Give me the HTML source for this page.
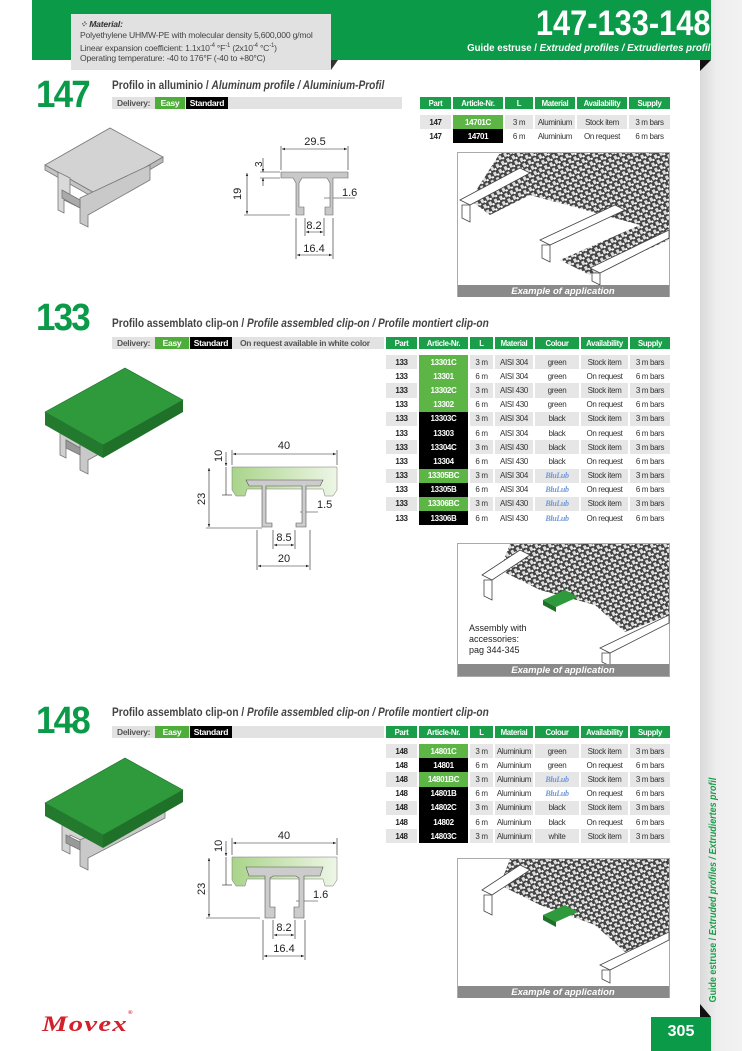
<!DOCTYPE html>
<html><head><meta charset="utf-8">
<style>
*{margin:0;padding:0;box-sizing:border-box}
body{width:742px;height:1051px;position:relative;background:#fff;overflow:hidden;font-family:"Liberation Sans Narrow","Liberation Sans",sans-serif;color:#222}
.a{position:absolute}
.strip{left:700px;top:0;width:42px;height:1051px;background:linear-gradient(90deg,#d9d9d9,#eeeeee 40%,#f2f2f2)}
.band{left:32px;top:0;width:679px;height:60px;background:#0a9a48}
.mat{left:71px;top:14px;width:260px;height:56px;background:#e1e1e1;font-size:8.6px;line-height:10.8px;color:#444;padding:5px 0 0 9px;letter-spacing:-0.2px}
.mat b{font-style:italic;color:#333}
.big{font-weight:bold;color:#0a9a48;font-size:38px;letter-spacing:-2px;line-height:30px;transform:scaleX(0.92);transform-origin:left}
.title{font-size:11.5px;font-weight:bold;color:#444;white-space:nowrap;transform:scaleX(0.88);transform-origin:left}
.del{height:12px;background:#e2e2e2;font-size:8.5px;font-weight:bold;color:#555;line-height:12px;white-space:nowrap;letter-spacing:-0.3px}
.del span{position:absolute;top:0;height:12px;text-align:center}
.easy{background:#4fae3a;color:#fff}
.std{background:#000;color:#fff}
table{position:absolute;border-collapse:separate;border-spacing:2px 0;font-size:8px;text-align:center;table-layout:fixed;letter-spacing:-0.35px}
th{background:#1a9e4a;color:#fff;height:12px;font-weight:bold;font-size:7.8px;padding:0;white-space:nowrap;overflow:hidden}
td{height:14.2px;padding:0;color:#333;white-space:nowrap;overflow:hidden}
tr.g td{background:#e6e6e6}
td.p{font-weight:bold;color:#222}
td.cg{background:#5cb544!important;color:#fff;font-weight:bold}
td.ck{background:#000!important;color:#fff;font-weight:bold}
.blu{color:#6f9ad6;font-family:"Liberation Serif",serif;font-weight:bold;font-style:italic}
</style></head><body>
<div class="a strip"></div>
<div class="a band"></div>
<svg class="a" style="left:700px;top:60px" width="11" height="11"><polygon points="0,11 11,0 0,0" fill="#111"/></svg>
<div class="a mat"><b>⁘ Material:</b><br>Polyethylene UHMW-PE with molecular density 5,600,000 g/mol<br>Linear expansion coefficient: 1.1x10<sup style="font-size:6px">-4</sup> °F<sup style="font-size:6px">-1</sup> (2x10<sup style="font-size:6px">-4</sup> °C<sup style="font-size:6px">-1</sup>)<br>Operating temperature: -40 to 176°F (-40 to +80°C)</div>
<svg class="a" style="left:331px;top:60px" width="8" height="10"><polygon points="0,10 0,0 7,0" fill="#333"/></svg>
<div class="a" style="right:32px;top:7px;color:#fff;font-weight:bold;font-size:35px;line-height:34px;text-align:right;transform:scaleX(0.88);transform-origin:right">147-133-148</div>
<div class="a" style="right:32px;top:42px;color:#fff;font-weight:bold;font-size:10.5px;text-align:right;white-space:nowrap;transform:scaleX(0.92);transform-origin:right">Guide estruse / <i>Extruded profiles / Extrudiertes profil</i></div>

<!-- 147 -->
<div class="a big" style="left:36px;top:80px">147</div>
<div class="a title" style="left:112px;top:80px">Profilo in alluminio / <i>Aluminum profile / Aluminium-Profil</i></div>
<div class="a del" style="left:112px;top:97px;width:290px"><span style="left:5px">Delivery:</span><span class="easy" style="left:43px;width:30px">Easy</span><span class="std" style="left:74px;width:42px">Standard</span></div>
<table style="left:418px;top:97px;width:254px">
<colgroup><col style="width:31px"><col style="width:50px"><col style="width:28px"><col style="width:40px"><col style="width:50px"><col style="width:41px"></colgroup>
<tr><th>Part</th><th>Article-Nr.</th><th>L</th><th>Material</th><th>Availability</th><th>Supply</th></tr>
<tr><td style="height:6px" colspan="6"></td></tr>
<tr class="g"><td class="p">147</td><td class="cg">14701C</td><td>3 m</td><td>Aluminium</td><td>Stock item</td><td>3 m bars</td></tr>
<tr><td class="p">147</td><td class="ck">14701</td><td>6 m</td><td>Aluminium</td><td>On request</td><td>6 m bars</td></tr>
</table>

<svg class="a" style="left:0;top:0" width="700" height="1051" font-family="Liberation Sans,sans-serif" font-size="11" fill="#222">
<defs>
<pattern id="ch" width="6" height="6" patternUnits="userSpaceOnUse" patternTransform="rotate(-28)">
<rect width="6" height="6" fill="#444"/><rect x="0" y="0" width="3" height="4" fill="#ddd"/><rect x="3" y="3" width="2" height="2" fill="#fff"/></pattern>
<linearGradient id="lg" x1="0" x2="1"><stop offset="0" stop-color="#a9d48a"/><stop offset="1" stop-color="#eef6e6"/></linearGradient>
<marker id="ar" markerWidth="6" markerHeight="6" refX="5" refY="3" orient="auto-start-reverse"><path d="M0,1 L5,3 L0,5z" fill="#222"/></marker>
</defs>
<!-- 147 3D -->
<g stroke="#777" stroke-width="0.8">
<polygon points="45,165 110,128 163,157 98,195" fill="#d3d3d3"/>
<polygon points="45,165 98,195 98,200 45,170" fill="#c4c4c4"/>
<polygon points="98,195 163,157 163,162 98,200" fill="#bbb"/>
<polygon points="58,172 58,210 64,213 64,200 80,208 80,200 70,195 70,178" fill="#d9d9d9"/>
<polygon points="80,198 80,223 88,227 88,215 150,180 150,165" fill="#c9c9c9"/>
<polygon points="62,190 80,200 80,208 62,198" fill="#aaa"/>
</g>
<!-- 147 drawing -->
<g stroke="#222" stroke-width="0.6" fill="none">
<line x1="281" y1="146" x2="281" y2="170"/><line x1="348" y1="146" x2="348" y2="170"/>
<line x1="282" y1="149" x2="347" y2="149" marker-start="url(#ar)" marker-end="url(#ar)"/>
<line x1="260" y1="172" x2="280" y2="172"/><line x1="260" y1="178" x2="280" y2="178"/>
<line x1="263" y1="158" x2="263" y2="172" marker-end="url(#ar)"/><line x1="263" y1="186" x2="263" y2="178" marker-end="url(#ar)"/>
<line x1="244" y1="215" x2="290" y2="215"/>
<line x1="247" y1="173" x2="247" y2="214" marker-start="url(#ar)" marker-end="url(#ar)"/>
<line x1="324" y1="198" x2="355" y2="198"/>
<line x1="305" y1="218" x2="305" y2="236"/><line x1="324" y1="218" x2="324" y2="236"/>
<line x1="306" y1="232" x2="323" y2="232" marker-start="url(#ar)" marker-end="url(#ar)"/>
<line x1="296" y1="218" x2="296" y2="259"/><line x1="333" y1="218" x2="333" y2="259"/>
<line x1="297" y1="255" x2="332" y2="255" marker-start="url(#ar)" marker-end="url(#ar)"/>
</g>
<path d="M281,172 H348 V178 H333 V215 H325 V207 H330 V183 L327,178 H302 L299,183 V207 H304 V215 H296 V183 L293,178 H281Z" fill="#c8c8c8" stroke="#666" stroke-width="0.6"/>
<text x="315" y="145" text-anchor="middle">29.5</text>
<text x="0" y="0" transform="translate(262,167) rotate(-90)" font-size="10">3</text>
<text x="0" y="0" transform="translate(241,200) rotate(-90)">19</text>
<text x="342" y="196">1.6</text>
<text x="314" y="229" text-anchor="middle">8.2</text>
<text x="314" y="252" text-anchor="middle">16.4</text>

<!-- 147 app -->
<rect x="457.5" y="152.5" width="212" height="144" fill="#fff" stroke="#aaa"/>
<polygon points="500,153 669,153 669,240 590,275 560,260 640,225 530,195 490,215 470,200" fill="url(#ch)"/>
<g fill="#fff" stroke="#444" stroke-width="0.8">
<polygon points="460,200 520,168 530,173 470,205"/><polygon points="462,205 470,205 470,222 462,218"/>
<polygon points="540,240 615,205 625,210 550,245"/><polygon points="542,245 550,245 550,262 542,258"/>
<polygon points="590,268 669,230 669,238 600,273"/><polygon points="592,273 600,273 600,285 592,281"/>
</g>
<rect x="458" y="285" width="211" height="12" fill="#8a8a8a"/>
<text x="563" y="294" text-anchor="middle" fill="#fff" font-size="9.5" font-weight="bold" font-style="italic">Example of application</text>

<!-- 133 3D -->
<g stroke="#777" stroke-width="0.8">
<polygon points="60,412 60,455 66,458 66,440 80,448 80,420" fill="#d0d0d0"/>
<polygon points="80,440 80,470 88,474 88,460 165,418 165,395" fill="#c9c9c9"/>
<polygon points="66,440 80,448 80,455 66,448" fill="#999"/>
</g>
<polygon points="45,412 125,368 183,400 103,445" fill="#2f9a3c" stroke="#1c6e2a" stroke-width="0.6"/>
<polygon points="45,412 103,445 103,458 45,425" fill="#237a2e"/>
<polygon points="103,445 183,400 183,412 103,458" fill="#1f7029"/>
<!-- 133 drawing -->
<g stroke="#222" stroke-width="0.6" fill="none">
<line x1="232" y1="450" x2="232" y2="465"/><line x1="337" y1="450" x2="337" y2="465"/>
<line x1="233" y1="454" x2="336" y2="454" marker-start="url(#ar)" marker-end="url(#ar)"/>
<line x1="222" y1="495" x2="232" y2="495"/>
<line x1="226" y1="452" x2="226" y2="466" marker-end="url(#ar)"/><line x1="226" y1="467" x2="226" y2="495"/>
<line x1="206" y1="528" x2="262" y2="528"/>
<line x1="209" y1="468" x2="209" y2="527" marker-start="url(#ar)" marker-end="url(#ar)"/>
<line x1="300" y1="512" x2="318" y2="512"/>
<line x1="273" y1="530" x2="273" y2="549"/><line x1="295" y1="530" x2="295" y2="549"/>
<line x1="274" y1="545" x2="294" y2="545" marker-start="url(#ar)" marker-end="url(#ar)"/>
<line x1="257" y1="530" x2="257" y2="570"/><line x1="310" y1="530" x2="310" y2="570"/>
<line x1="258" y1="566" x2="309" y2="566" marker-start="url(#ar)" marker-end="url(#ar)"/>
</g>
<path d="M232,467 H337 V490 L333,496 H325 L323,489 H247 L245,496 H236 L232,490Z" fill="url(#lg)" stroke="#777" stroke-width="0.5"/>
<path d="M246,480 H323 L320,486 H306 V527 H296 V523 H302 V486 H266 V523 H272 V527 H262 V486 H249Z" fill="#ccc" stroke="#555" stroke-width="0.6"/>
<text x="284" y="449" text-anchor="middle">40</text>
<text transform="translate(222,462) rotate(-90)">10</text>
<text transform="translate(205,505) rotate(-90)">23</text>
<text x="317" y="508">1.5</text>
<text x="284" y="541" text-anchor="middle">8.5</text>
<text x="284" y="562" text-anchor="middle">20</text>

<!-- 133 app -->
<rect x="457.5" y="543.5" width="212" height="133" fill="#fff" stroke="#aaa"/>
<polygon points="510,544 669,544 669,615 625,632 595,605 540,590 500,570" fill="url(#ch)"/>
<g fill="#fff" stroke="#444" stroke-width="0.8">
<polygon points="482,575 520,550 530,555 492,580"/><polygon points="484,580 492,580 492,600 484,596"/>
<polygon points="600,648 669,615 669,623 610,653"/><polygon points="602,653 610,653 610,666 602,662"/>
</g>
<polygon points="543,600 565,590 578,597 556,607" fill="#2f9a3c"/><polygon points="543,600 556,607 556,612 543,605" fill="#1f7029"/>
<text x="469" y="631" font-size="9">Assembly with</text>
<text x="469" y="642" font-size="9">accessories:</text>
<text x="469" y="653" font-size="9">pag  344-345</text>
<rect x="458" y="664" width="211" height="12" fill="#8a8a8a"/>
<text x="563" y="673" text-anchor="middle" fill="#fff" font-size="9.5" font-weight="bold" font-style="italic">Example of application</text>

<!-- 148 3D -->
<g stroke="#777" stroke-width="0.8">
<polygon points="62,822 62,850 70,854 70,835 85,842 85,822" fill="#d3d3d3"/>
<polygon points="80,840 80,866 88,870 88,858 165,818 165,800" fill="#c9c9c9"/>
<polygon points="66,835 80,842 80,850 66,843" fill="#999"/>
</g>
<polygon points="45,803 125,758 183,790 103,835" fill="#2f9a3c" stroke="#1c6e2a" stroke-width="0.6"/>
<polygon points="45,803 103,835 103,848 45,816" fill="#237a2e"/>
<polygon points="103,835 183,790 183,802 103,848" fill="#1f7029"/>
<!-- 148 drawing -->
<g stroke="#222" stroke-width="0.6" fill="none">
<line x1="232" y1="838" x2="232" y2="855"/><line x1="337" y1="838" x2="337" y2="855"/>
<line x1="233" y1="843" x2="336" y2="843" marker-start="url(#ar)" marker-end="url(#ar)"/>
<line x1="222" y1="885" x2="232" y2="885"/>
<line x1="226" y1="841" x2="226" y2="856" marker-end="url(#ar)"/><line x1="226" y1="857" x2="226" y2="885"/>
<line x1="206" y1="918" x2="260" y2="918"/>
<line x1="209" y1="858" x2="209" y2="917" marker-start="url(#ar)" marker-end="url(#ar)"/>
<line x1="296" y1="901" x2="318" y2="901"/>
<line x1="273" y1="920" x2="273" y2="939"/><line x1="295" y1="920" x2="295" y2="939"/>
<line x1="274" y1="935" x2="294" y2="935" marker-start="url(#ar)" marker-end="url(#ar)"/>
<line x1="263" y1="920" x2="263" y2="960"/><line x1="305" y1="920" x2="305" y2="960"/>
<line x1="264" y1="956" x2="304" y2="956" marker-start="url(#ar)" marker-end="url(#ar)"/>
</g>
<path d="M232,857 H337 V880 L333,886 H325 L323,879 H247 L245,886 H236 L232,880Z" fill="url(#lg)" stroke="#777" stroke-width="0.5"/>
<path d="M246,867 H323 L320,876 H304 V918 H294 V907 H299 V878 L296,876 H273 L270,878 V907 H275 V918 H265 V876 H249Z" fill="#ccc" stroke="#555" stroke-width="0.6"/>
<text x="284" y="839" text-anchor="middle">40</text>
<text transform="translate(222,852) rotate(-90)">10</text>
<text transform="translate(205,895) rotate(-90)">23</text>
<text x="313" y="898">1.6</text>
<text x="284" y="931" text-anchor="middle">8.2</text>
<text x="284" y="952" text-anchor="middle">16.4</text>

<!-- 148 app -->
<rect x="457.5" y="858.5" width="212" height="139" fill="#fff" stroke="#aaa"/>
<polygon points="510,859 669,859 669,935 625,952 595,925 540,905 500,885" fill="url(#ch)"/>
<g fill="#fff" stroke="#444" stroke-width="0.8">
<polygon points="482,890 520,865 530,870 492,895"/><polygon points="484,895 492,895 492,915 484,911"/>
<polygon points="600,965 669,932 669,940 610,970"/><polygon points="602,970 610,970 610,983 602,979"/>
</g>
<polygon points="543,915 565,905 578,912 556,922" fill="#2f9a3c"/><polygon points="543,915 556,922 556,927 543,920" fill="#1f7029"/>
<rect x="458" y="986" width="211" height="12" fill="#8a8a8a"/>
<text x="563" y="995" text-anchor="middle" fill="#fff" font-size="9.5" font-weight="bold" font-style="italic">Example of application</text>
</svg>

<!-- 133 -->
<div class="a big" style="left:36px;top:303px">133</div>
<div class="a title" style="left:112px;top:318px">Profilo assemblato clip-on / <i>Profile assembled clip-on / Profile montiert clip-on</i></div>
<div class="a del" style="left:112px;top:337px;width:272px"><span style="left:5px">Delivery:</span><span class="easy" style="left:43px;width:34px">Easy</span><span class="std" style="left:78px;width:42px">Standard</span><span style="left:128px">On request available in white color</span></div>
<table style="left:384px;top:337px;width:288px">
<colgroup><col style="width:31px"><col style="width:49px"><col style="width:23px"><col style="width:38px"><col style="width:44px"><col style="width:47px"><col style="width:40px"></colgroup>
<tr><th>Part</th><th>Article-Nr.</th><th>L</th><th>Material</th><th>Colour</th><th>Availability</th><th>Supply</th></tr>
<tr><td style="height:6px" colspan="7"></td></tr>
<tr class="g"><td class="p">133</td><td class="cg">13301C</td><td>3 m</td><td>AISI 304</td><td>green</td><td>Stock item</td><td>3 m bars</td></tr>
<tr><td class="p">133</td><td class="cg">13301</td><td>6 m</td><td>AISI 304</td><td>green</td><td>On request</td><td>6 m bars</td></tr>
<tr class="g"><td class="p">133</td><td class="cg">13302C</td><td>3 m</td><td>AISI 430</td><td>green</td><td>Stock item</td><td>3 m bars</td></tr>
<tr><td class="p">133</td><td class="cg">13302</td><td>6 m</td><td>AISI 430</td><td>green</td><td>On request</td><td>6 m bars</td></tr>
<tr class="g"><td class="p">133</td><td class="ck">13303C</td><td>3 m</td><td>AISI 304</td><td>black</td><td>Stock item</td><td>3 m bars</td></tr>
<tr><td class="p">133</td><td class="ck">13303</td><td>6 m</td><td>AISI 304</td><td>black</td><td>On request</td><td>6 m bars</td></tr>
<tr class="g"><td class="p">133</td><td class="ck">13304C</td><td>3 m</td><td>AISI 430</td><td>black</td><td>Stock item</td><td>3 m bars</td></tr>
<tr><td class="p">133</td><td class="ck">13304</td><td>6 m</td><td>AISI 430</td><td>black</td><td>On request</td><td>6 m bars</td></tr>
<tr class="g"><td class="p">133</td><td class="cg">13305BC</td><td>3 m</td><td>AISI 304</td><td class="blu">BluLub</td><td>Stock item</td><td>3 m bars</td></tr>
<tr><td class="p">133</td><td class="ck">13305B</td><td>6 m</td><td>AISI 304</td><td class="blu">BluLub</td><td>On request</td><td>6 m bars</td></tr>
<tr class="g"><td class="p">133</td><td class="cg">13306BC</td><td>3 m</td><td>AISI 430</td><td class="blu">BluLub</td><td>Stock item</td><td>3 m bars</td></tr>
<tr><td class="p">133</td><td class="ck">13306B</td><td>6 m</td><td>AISI 430</td><td class="blu">BluLub</td><td>On request</td><td>6 m bars</td></tr>
</table>

<!-- 148 -->
<div class="a big" style="left:36px;top:706px">148</div>
<div class="a title" style="left:112px;top:707px">Profilo assemblato clip-on / <i>Profile assembled clip-on / Profile montiert clip-on</i></div>
<div class="a del" style="left:112px;top:726px;width:272px"><span style="left:5px">Delivery:</span><span class="easy" style="left:43px;width:34px">Easy</span><span class="std" style="left:78px;width:42px">Standard</span></div>
<table style="left:384px;top:726px;width:288px">
<colgroup><col style="width:31px"><col style="width:49px"><col style="width:23px"><col style="width:38px"><col style="width:44px"><col style="width:47px"><col style="width:40px"></colgroup>
<tr><th>Part</th><th>Article-Nr.</th><th>L</th><th>Material</th><th>Colour</th><th>Availability</th><th>Supply</th></tr>
<tr><td style="height:6px" colspan="7"></td></tr>
<tr class="g"><td class="p">148</td><td class="cg">14801C</td><td>3 m</td><td>Aluminium</td><td>green</td><td>Stock item</td><td>3 m bars</td></tr>
<tr><td class="p">148</td><td class="ck">14801</td><td>6 m</td><td>Aluminium</td><td>green</td><td>On request</td><td>6 m bars</td></tr>
<tr class="g"><td class="p">148</td><td class="cg">14801BC</td><td>3 m</td><td>Aluminium</td><td class="blu">BluLub</td><td>Stock item</td><td>3 m bars</td></tr>
<tr><td class="p">148</td><td class="ck">14801B</td><td>6 m</td><td>Aluminium</td><td class="blu">BluLub</td><td>On request</td><td>6 m bars</td></tr>
<tr class="g"><td class="p">148</td><td class="ck">14802C</td><td>3 m</td><td>Aluminium</td><td>black</td><td>Stock item</td><td>3 m bars</td></tr>
<tr><td class="p">148</td><td class="ck">14802</td><td>6 m</td><td>Aluminium</td><td>black</td><td>On request</td><td>6 m bars</td></tr>
<tr class="g"><td class="p">148</td><td class="ck">14803C</td><td>3 m</td><td>Aluminium</td><td>white</td><td>Stock item</td><td>3 m bars</td></tr>
</table>

<!-- side text -->
<div class="a" style="left:713px;top:890px;transform:translate(-50%,-50%) rotate(-90deg) scaleX(0.85);white-space:nowrap;color:#1a9e4a;font-weight:bold;font-size:10.5px">Guide estruse / <i>Extruded profiles / Extrudiertes profil</i></div>
<svg class="a" style="left:700px;top:1004px" width="11" height="13"><polygon points="0,0 11,13 0,13" fill="#111"/></svg>
<div class="a" style="left:651px;top:1017px;width:60px;height:34px;background:#0a9a48;color:#fff;font-size:16px;font-weight:bold;text-align:center;line-height:30px;font-family:'Liberation Sans',sans-serif">305</div>
<div class="a" style="left:42px;top:1011px;color:#d4202a;font-family:'Liberation Serif',serif;font-weight:bold;font-style:italic;font-size:22px;letter-spacing:1px;transform:scaleX(1.3);transform-origin:left">Movex<span style="font-size:5px;vertical-align:top">®</span></div>
</body></html>
